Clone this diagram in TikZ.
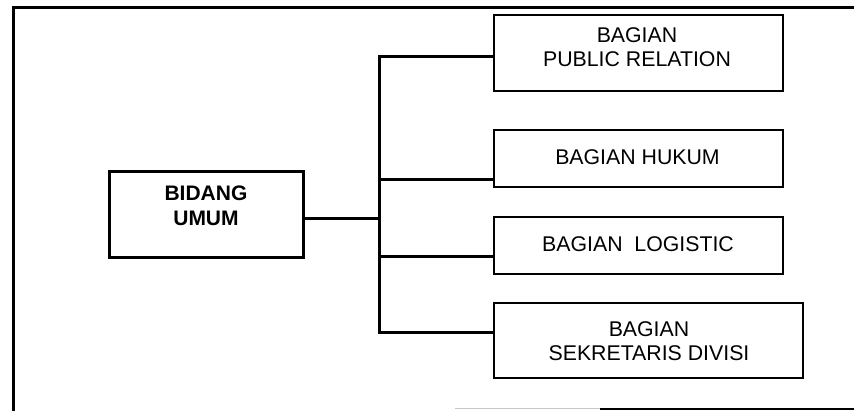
\documentclass[tikz,border=0pt]{standalone}
\usepackage{fontspec}
\setmainfont{Liberation Sans}
\begin{document}
\begin{tikzpicture}[x=1pt,y=-1pt,
  frameline/.style={line width=3pt},
  wire/.style={line width=3pt},
  headbox/.style={draw,line width=3pt,minimum width=194pt,minimum height=86pt,inner sep=0pt},
  unitbox/.style={draw,line width=2pt,minimum height=57pt,minimum width=289pt,inner sep=0pt},
  headtext/.style={font=\fontsize{21}{25}\selectfont\bfseries,align=center,inner sep=0pt},
  unittext/.style={font=\fontsize{21.3}{23.5}\selectfont,align=center,inner sep=0pt}]
\useasboundingbox (0,0) rectangle (854,410);

% outer frame
\draw[frameline] (856,7) -- (13,7) -- (13,412);
\draw[line width=1.5pt,gray!45] (455,408.5) -- (600,408.5);
\draw[line width=2pt] (600,408.5) -- (856,408.5);

% head box
\node[headbox] (b0) at (206,214) {};
\node[headtext] (t0) at (206,206) {BIDANG\\UMUM};

% unit boxes
\node[unitbox,minimum height=76pt] (b1) at (638.5,53) {};
\node[unittext] (t1) at (637,47) {BAGIAN\\PUBLIC RELATION};
\node[unitbox] (b2) at (638.5,158.5) {};
\node[unittext] (t2) at (637.5,157) {BAGIAN HUKUM};
\node[unittext] (t3) at (638,244) {BAGIAN\ \ LOGISTIC};
\node[unitbox] (b3) at (638.5,245.5) {};
\node[unitbox,minimum width=309pt,minimum height=75pt] (b4) at (648.5,340.5) {};
\node[unittext] (t4) at (649,341) {BAGIAN\\SEKRETARIS DIVISI};

% junctions on the trunk
\coordinate (j0) at (379,218);
\coordinate (j1) at (379,56);
\coordinate (j2) at (379,179);
\coordinate (j3) at (379,256);
\coordinate (j4) at (379,332);

% connectors
\draw[wire,line cap=rect] (j1) -- (j4);
\draw[wire] (b0.east |- j0) -- (j0);
\draw[wire] (j1) -- (b1.west |- j1);
\draw[wire] (j2) -- (b2.west |- j2);
\draw[wire] (j3) -- (b3.west |- j3);
\draw[wire] (j4) -- (b4.west |- j4);
\end{tikzpicture}
\end{document}
